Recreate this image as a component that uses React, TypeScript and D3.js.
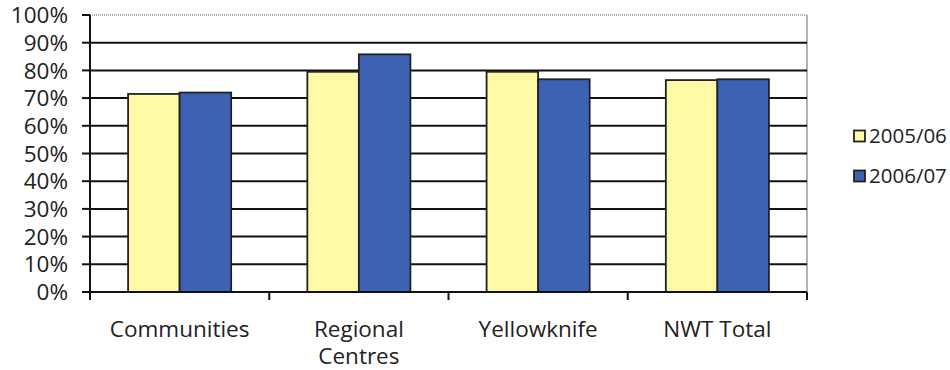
import React from "react";
import * as d3 from "d3";

const categories = ["Communities", "Regional Centres", "Yellowknife", "NWT Total"];
const seriesNames = ["2005/06", "2006/07"];
const values2005 = [71.5, 79.5, 79.5, 76.5];
const values2006 = [72, 85.8, 76.8, 76.8];
const yTicks = [0, 10, 20, 30, 40, 50, 60, 70, 80, 90, 100];
const colors = ["#FFFAA6", "#3D62B4"];

const W = 950;
const H = 370;
const left = 90;
const right = 807;
const top = 15;
const bottom = 292;
const font = "'Open Sans', 'DejaVu Sans', sans-serif";
const fs = 22.5;

export default function App() {
  const x = d3.scaleBand<string>().domain(categories).range([left, right]).paddingInner(0).paddingOuter(0);
  const y = d3.scaleLinear().domain([0, 100]).range([bottom, top]);
  const groupFrac = 0.575;
  const barW = (x.bandwidth() * groupFrac) / 2;
  const series = [values2005, values2006];

  return (
    <svg width={W} height={H} style={{ position: "absolute", left: 0, top: 0, background: "#fff" }}>
      {/* plot border */}
      <line x1={left} x2={right} y1={top} y2={top} stroke="#999" strokeWidth={1.5} strokeDasharray="1 1" />
      <line x1={right} x2={right} y1={top} y2={bottom} stroke="#999" strokeWidth={1.5} />
      {/* gridlines */}
      {yTicks.filter((t) => t > 0 && t < 100).map((t) => (
        <line key={t} x1={left} x2={right} y1={y(t)} y2={y(t)} stroke="#111" strokeWidth={2} />
      ))}
      {/* bars */}
      {categories.map((c, i) => {
        const cx = (x(c) as number) + x.bandwidth() / 2;
        return series.map((vals, s) => (
          <rect
            key={c + s}
            x={cx - barW + s * barW}
            y={y(vals[i])}
            width={barW}
            height={y(0) - y(vals[i])}
            fill={colors[s]}
            stroke="#222"
            strokeWidth={1.8}
          />
        ));
      })}
      {/* y axis */}
      <line x1={left} x2={left} y1={top} y2={bottom} stroke="#111" strokeWidth={2} />
      {yTicks.map((t) => (
        <g key={t}>
          <line x1={left - 8} x2={left} y1={y(t)} y2={y(t)} stroke="#111" strokeWidth={2} />
          <text x={left - 22} y={y(t)} dy="0.36em" textAnchor="end" fontFamily={font} fontSize={fs} fill="#222">
            {t}%
          </text>
        </g>
      ))}
      {/* x axis */}
      <line x1={left} x2={right} y1={bottom} y2={bottom} stroke="#111" strokeWidth={2} />
      {[...categories.map((c) => x(c) as number), right].map((px, i) => (
        <line key={i} x1={px} x2={px} y1={bottom} y2={bottom + 8} stroke="#111" strokeWidth={2} />
      ))}
      {categories.map((c) => {
        const cx = (x(c) as number) + x.bandwidth() / 2;
        const parts = c === "Regional Centres" ? ["Regional", "Centres"] : [c];
        return (
          <text key={c} x={cx} y={337} textAnchor="middle" fontFamily={font} fontSize={fs} fill="#222">
            {parts.map((p, k) => (
              <tspan key={k} x={cx} dy={k === 0 ? 0 : 27}>
                {p}
              </tspan>
            ))}
          </text>
        );
      })}
      {/* legend */}
      {seriesNames.map((n, s) => (
        <g key={n} transform={`translate(854, ${136 + s * 40})`}>
          <rect x={0} y={-5.5} width={11} height={11} fill={colors[s]} stroke="#222" strokeWidth={1.8} />
          <text x={15} y={0} dy="0.36em" fontFamily={font} fontSize={20.5} fill="#222">
            {n}
          </text>
        </g>
      ))}
    </svg>
  );
}
